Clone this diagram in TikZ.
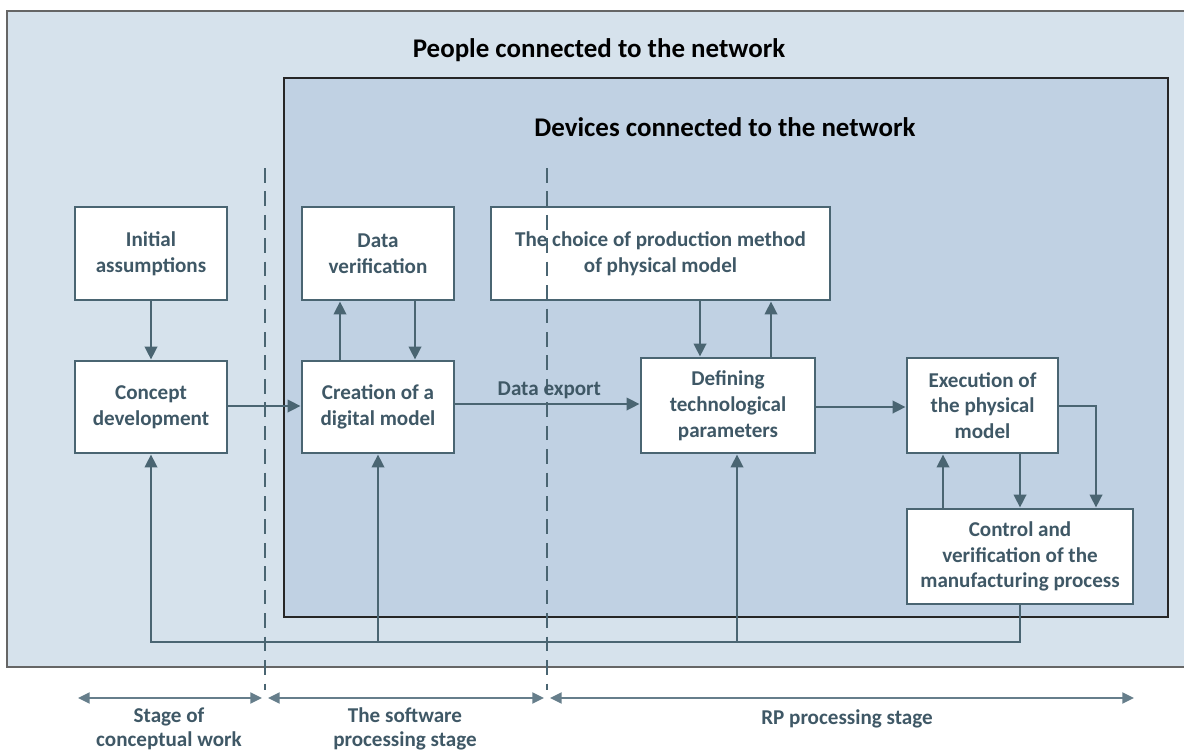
\documentclass[tikz,border=0pt]{standalone}
\usepackage{fontspec}
\setmainfont{Carlito}
\usetikzlibrary{arrows.meta}
\definecolor{outerbg}{HTML}{D6E2EC}
\definecolor{innerbg}{HTML}{C0D1E3}
\definecolor{slate}{HTML}{4A6572}
\definecolor{slatetext}{HTML}{3F5866}
\definecolor{stageline}{HTML}{667E8B}

\begin{document}
\begin{tikzpicture}[x=0.03cm, y=-0.03cm,
  box/.style={draw=slate, line width=2.5pt, fill=white, text=slatetext, align=center, inner sep=2pt, font=\fontsize{18}{22}\selectfont\bfseries},
  arr/.style={draw=slate, line width=2.3pt, -{Triangle[length=11pt,width=10.5pt]}},
  stagearr/.style={draw=stageline, line width=1.4pt, {Triangle[length=10pt,width=9.5pt]}-{Triangle[length=10pt,width=9.5pt]}},
  divider/.style={draw=slate, line width=1.6pt, dash pattern=on 12.5pt off 7.5pt},
  title/.style={font=\fontsize{23}{27}\selectfont\bfseries, text=black},
  stagelbl/.style={text=slatetext, align=center, font=\fontsize{18}{21}\selectfont\bfseries}]
\useasboundingbox (0,0) rectangle (1184,753);
\fill[outerbg] (7,11) rectangle (1184,667);
\draw[line width=1.5pt, black!60] (1184,11) -- (7,11) -- (7,667) -- (1184,667);
\draw[line width=1.3pt, black!85, fill=innerbg] (284,78) rectangle (1168,617);
\node[title] (people) at (599,50) {People connected to the network};
\node[title] (devices) at (725,127) {Devices connected to the network};
\node[box, minimum width=4.56cm, minimum height=2.79cm] (init) at (151,253.5) {Initial\\assumptions};
\node[box, minimum width=4.56cm, minimum height=2.76cm] (concept) at (151,407) {Concept\\development};
\node[box, minimum width=4.56cm, minimum height=2.79cm] (dataver) at (378,253.5) {Data\\verification};
\node[box, minimum width=4.56cm, minimum height=2.76cm] (creation) at (378,407) {Creation of a\\digital model};
\node[box, minimum width=10.17cm, minimum height=2.79cm] (choice) at (660.5,253.5) {The choice of production method\\of physical model};
\node[box, minimum width=5.22cm, minimum height=2.85cm] (defining) at (728,405.5) {Defining\\technological\\parameters};
\node[box, minimum width=4.53cm, minimum height=2.85cm] (execution) at (982.5,405.5) {Execution of\\the physical\\model};
\node[box, minimum width=6.78cm, minimum height=2.85cm] (control) at (1020,556.5) {Control and\\verification of the\\manufacturing process};
\draw[divider] (265,168) -- (265,690);
\draw[divider] (547,168) -- (547,690);
\draw[arr] (init) -- (concept);
\draw[arr] (concept.east |- 0,406) -- (creation.west |- 0,406);
\draw[arr] (creation.north -| 340,0) -- (dataver.south -| 340,0);
\draw[arr] (dataver.south -| 415,0) -- (creation.north -| 415,0);
\draw[arr] (creation.east |- 0,404) -- (defining.west |- 0,404) node[pos=0.51, above, text=slatetext, font=\fontsize{18}{22}\selectfont\bfseries] {Data export};
\draw[arr] (choice.south -| 700,0) -- (defining.north -| 700,0);
\draw[arr] (defining.north -| 771,0) -- (choice.south -| 771,0);
\draw[arr] (defining.east |- 0,407) -- (execution.west |- 0,407);
\draw[arr] (execution.south -| 1020,0) -- (control.north -| 1020,0);
\draw[arr] (control.north -| 943,0) -- (execution.south -| 943,0);
\draw[arr] (execution.east |- 0,406) -| (control.north -| 1096,0);
\draw[arr] (control.south) -- (1020,642) -| (concept.south);
\draw[arr] (378,642) -- (creation.south);
\draw[arr] (737,642) -- (defining.south -| 737,0);
\coordinate (s1a) at (78,698);
\coordinate (s1b) at (262,698);
\coordinate (s2a) at (268,698);
\coordinate (s2b) at (544,698);
\coordinate (s3a) at (550,698);
\coordinate (s3b) at (1134,698);
\draw[stagearr] (s1a) -- (s1b);
\draw[stagearr] (s2a) -- (s2b);
\draw[stagearr] (s3a) -- (s3b);
\node[stagelbl] (conceptual) at (169,729) {Stage of\\conceptual work};
\node[stagelbl] (software) at (405,729) {The software\\processing stage};
\node[stagelbl] (rpstage) at (847,719) {RP processing stage};
\end{tikzpicture}
\end{document}
